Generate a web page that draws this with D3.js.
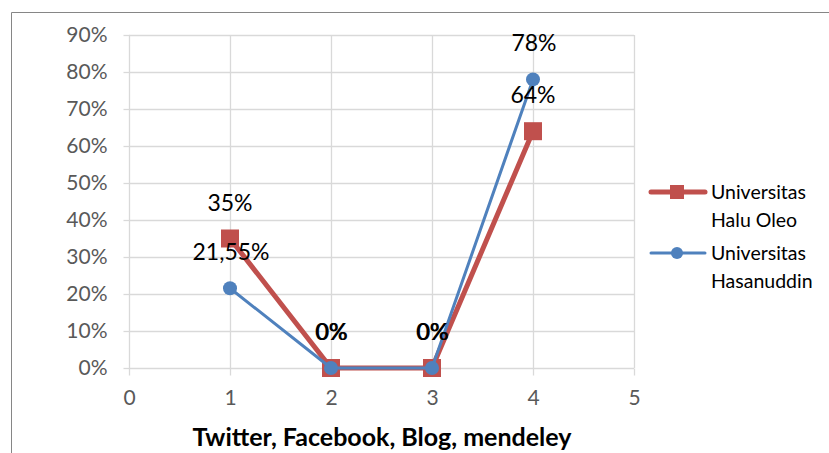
<!DOCTYPE html>
<html><head><meta charset="utf-8">
<script src="https://cdn.jsdelivr.net/npm/d3@7"></script>
<style>body{margin:0;background:#fff}svg{display:block}</style>
</head><body>
<svg id="c" width="829" height="453"></svg>
<script>
const xValues = [1, 2, 3, 4];
const haluOleo = [0.35, 0, 0, 0.64];
const hasanuddin = [0.2155, 0, 0, 0.78];
const haluLabels = ["35%", "0%", "0%", "64%"];
const hasanLabels = ["21,55%", "0%", "0%", "78%"];
const yTicks = [0, 0.1, 0.2, 0.3, 0.4, 0.5, 0.6, 0.7, 0.8, 0.9];
const xTicks = [0, 1, 2, 3, 4, 5];
const xTitle = "Twitter, Facebook, Blog, mendeley";
const seriesNames = [["Universitas", "Halu Oleo"], ["Universitas", "Hasanuddin"]];

const font = "Lato, 'Open Sans', sans-serif";
const svg = d3.select("#c");
const x = d3.scaleLinear().domain([0, 5]).range([129, 634]);
const y = d3.scaleLinear().domain([0, 0.9]).range([368, 35]);

// outer frame
svg.append("path").attr("d", "M11.5,453 L11.5,12.5 L829,12.5").attr("fill", "none").attr("stroke", "#868686").attr("stroke-width", 1);

// gridlines
svg.append("g").selectAll("line").data(yTicks.slice(1)).join("line")
  .attr("x1", x(0)).attr("x2", x(5)).attr("y1", d => Math.round(y(d)) + 0.5).attr("y2", d => Math.round(y(d)) + 0.5)
  .attr("stroke", "#d9d9d9").attr("stroke-width", 1.3);
svg.append("g").selectAll("line").data(xTicks.slice(1)).join("line")
  .attr("x1", d => Math.round(x(d)) + 0.5).attr("x2", d => Math.round(x(d)) + 0.5).attr("y1", y(0.9)).attr("y2", y(0))
  .attr("stroke", "#d9d9d9").attr("stroke-width", 1.3);

// axes
const yAxis = svg.append("g").attr("transform", `translate(${x(0) + 0.5},0)`)
  .call(d3.axisLeft(y).tickValues(yTicks).tickFormat(d3.format(".0%")).tickSize(6).tickPadding(16));
const xAxis = svg.append("g").attr("transform", `translate(0,${y(0) + 0.5})`)
  .call(d3.axisBottom(x).tickValues(xTicks).tickFormat(d3.format("d")).tickSize(7).tickPadding(15));
[yAxis, xAxis].forEach(a => {
  a.select(".domain").attr("stroke", "#d9d9d9").attr("stroke-width", 1.3);
  a.selectAll(".tick line").attr("stroke", "#d9d9d9").attr("stroke-width", 1.3);
  a.selectAll("text").attr("fill", "#595959").style("font-family", font).style("font-size", "21px");
});
xAxis.selectAll(".domain").attr("d", `M${x(0)},0H${x(5)}`);
yAxis.selectAll(".domain").attr("d", `M0,${y(0)}V${y(0.9)}`);

// axis title
svg.append("text").attr("x", 382).attr("y", 446).attr("text-anchor", "middle")
  .style("font-family", font).style("font-size", "25px").style("font-weight", "bold").attr("fill", "#000").text(xTitle);

const line = d3.line().x((d, i) => x(xValues[i])).y(d => y(d));

// red series
svg.append("path").datum(haluOleo).attr("d", line).attr("fill", "none")
  .attr("stroke", "#c0504d").attr("stroke-width", 5).attr("stroke-linejoin", "round");
svg.append("g").selectAll("rect").data(haluOleo).join("rect")
  .attr("x", (d, i) => x(xValues[i]) - 9).attr("y", d => y(d) - 9).attr("width", 18).attr("height", 18)
  .attr("fill", "#c0504d");

// blue series
svg.append("path").datum(hasanuddin).attr("d", line).attr("fill", "none")
  .attr("stroke", "#4f81bd").attr("stroke-width", 3).attr("stroke-linejoin", "round");
svg.append("g").selectAll("circle").data(hasanuddin).join("circle")
  .attr("cx", (d, i) => x(xValues[i])).attr("cy", d => y(d)).attr("r", 7)
  .attr("fill", "#4f81bd");

// data labels
function labels(vals, texts, dx) {
  svg.append("g").selectAll("text").data(vals).join("text")
    .attr("x", (d, i) => x(xValues[i]) + dx).attr("y", d => y(d) - 28)
    .attr("text-anchor", "middle").style("font-family", font).style("font-size", "23px").attr("fill", "#000")
    .text((d, i) => texts[i]);
}
labels(haluOleo, haluLabels, 0);
labels(hasanuddin, hasanLabels, 1);

// legend
const legend = svg.append("g");
const legY = [192, 253];
const colors = ["#c0504d", "#4f81bd"];
legend.selectAll("line").data(legY).join("line")
  .attr("x1", 651).attr("x2", 705).attr("y1", d => d).attr("y2", d => d)
  .attr("stroke", (d, i) => colors[i]).attr("stroke-width", (d, i) => i === 0 ? 5 : 3).attr("stroke-linecap", "round");
legend.append("rect").attr("x", 670).attr("y", legY[0] - 7).attr("width", 14).attr("height", 14).attr("fill", colors[0]);
legend.append("circle").attr("cx", 677).attr("cy", legY[1]).attr("r", 6).attr("fill", colors[1]);
seriesNames.forEach((lines, i) => {
  lines.forEach((t, j) => {
    legend.append("text").attr("x", 711).attr("y", legY[i] + 7 + j * 28)
      .style("font-family", font).style("font-size", "19.5px").attr("fill", "#000").text(t);
  });
});
</script>
</body></html>
